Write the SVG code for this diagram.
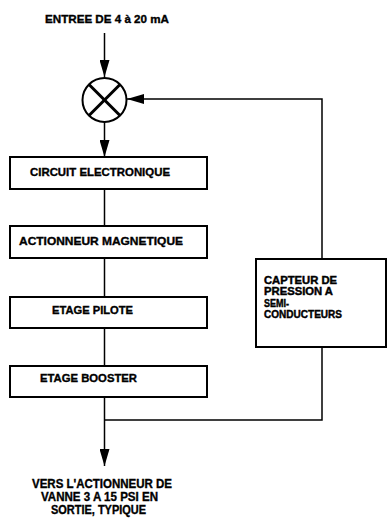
<svg xmlns="http://www.w3.org/2000/svg" width="388" height="518" viewBox="0 0 388 518">
<style>
  .box { fill: #fff; stroke: #000; stroke-width: 2; }
  .ln { fill: none; stroke: #000; stroke-width: 1.5; }
  .t { font-family: "Liberation Sans", Arial, sans-serif; font-weight: bold; font-size: 11px; fill: #000; stroke: #000; stroke-width: 0.35; }
  .s { font-size: 10px; stroke-width: 0.4; }
  .b { font-size: 12px; }
  .c { text-anchor: middle; }
</style>
<defs>
  <marker id="arr" viewBox="0 0 17 10" refX="17" refY="5" markerWidth="17" markerHeight="10" markerUnits="userSpaceOnUse" orient="auto">
    <path d="M0,0 L17,5 L0,10 Z" fill="#000"/>
  </marker>
</defs>
<rect width="388" height="518" fill="#fff"/>

<g id="connectors">
  <line class="ln" x1="104.5" y1="33" x2="104.5" y2="77" marker-end="url(#arr)"/>
  <line class="ln" x1="104.5" y1="122" x2="104.5" y2="157" marker-end="url(#arr)"/>
  <path class="ln" d="M322,259 V99 H127" marker-end="url(#arr)"/>
  <line class="ln" x1="104.5" y1="189" x2="104.5" y2="226"/>
  <line class="ln" x1="104.5" y1="258" x2="104.5" y2="297"/>
  <line class="ln" x1="104.5" y1="328" x2="104.5" y2="366"/>
  <line class="ln" x1="104.5" y1="397" x2="104.5" y2="466" marker-end="url(#arr)"/>
  <path class="ln" d="M104.5,420 H322 V347"/>
</g>

<g id="input-label">
  <text class="t" x="45" y="22.5" textLength="124" lengthAdjust="spacingAndGlyphs">ENTREE DE 4 à 20 mA</text>
</g>

<g id="summing-junction">
  <circle cx="104.5" cy="100" r="22" fill="#fff" stroke="#000" stroke-width="2"/>
  <line x1="89" y1="84.5" x2="120" y2="115.5" stroke="#000" stroke-width="3"/>
  <line x1="120" y1="84.5" x2="89" y2="115.5" stroke="#000" stroke-width="3"/>
</g>

<g id="circuit-electronique">
  <rect class="box" x="10" y="157" width="197" height="32"/>
  <text class="t" x="30" y="175.5" textLength="140" lengthAdjust="spacingAndGlyphs">CIRCUIT ELECTRONIQUE</text>
</g>

<g id="actionneur-magnetique">
  <rect class="box" x="10" y="226" width="197" height="32"/>
  <text class="t" x="19" y="244.5" textLength="164" lengthAdjust="spacingAndGlyphs">ACTIONNEUR MAGNETIQUE</text>
</g>

<g id="etage-pilote">
  <rect class="box" x="10" y="297" width="197" height="31"/>
  <text class="t" x="52" y="313.5" textLength="81" lengthAdjust="spacingAndGlyphs">ETAGE PILOTE</text>
</g>

<g id="etage-booster">
  <rect class="box" x="10" y="366" width="197" height="31"/>
  <text class="t" x="40" y="381.5" textLength="97" lengthAdjust="spacingAndGlyphs">ETAGE BOOSTER</text>
</g>

<g id="capteur">
  <rect class="box" x="256" y="259" width="130" height="88"/>
  <text class="t s" x="264" y="283.5" textLength="73" lengthAdjust="spacingAndGlyphs">CAPTEUR DE</text>
  <text class="t s" x="264" y="295" textLength="69" lengthAdjust="spacingAndGlyphs">PRESSION A</text>
  <text class="t s" x="264" y="306.5" textLength="25" lengthAdjust="spacingAndGlyphs">SEMI-</text>
  <text class="t s" x="264" y="318" textLength="78" lengthAdjust="spacingAndGlyphs">CONDUCTEURS</text>
</g>

<g id="output-label">
  <text class="t b c" x="102" y="488" textLength="140" lengthAdjust="spacingAndGlyphs">VERS L'ACTIONNEUR DE</text>
  <text class="t b c" x="99.5" y="501" textLength="117" lengthAdjust="spacingAndGlyphs">VANNE 3 A 15 PSI EN</text>
  <text class="t b c" x="98.5" y="514" textLength="95" lengthAdjust="spacingAndGlyphs">SORTIE, TYPIQUE</text>
</g>
</svg>
